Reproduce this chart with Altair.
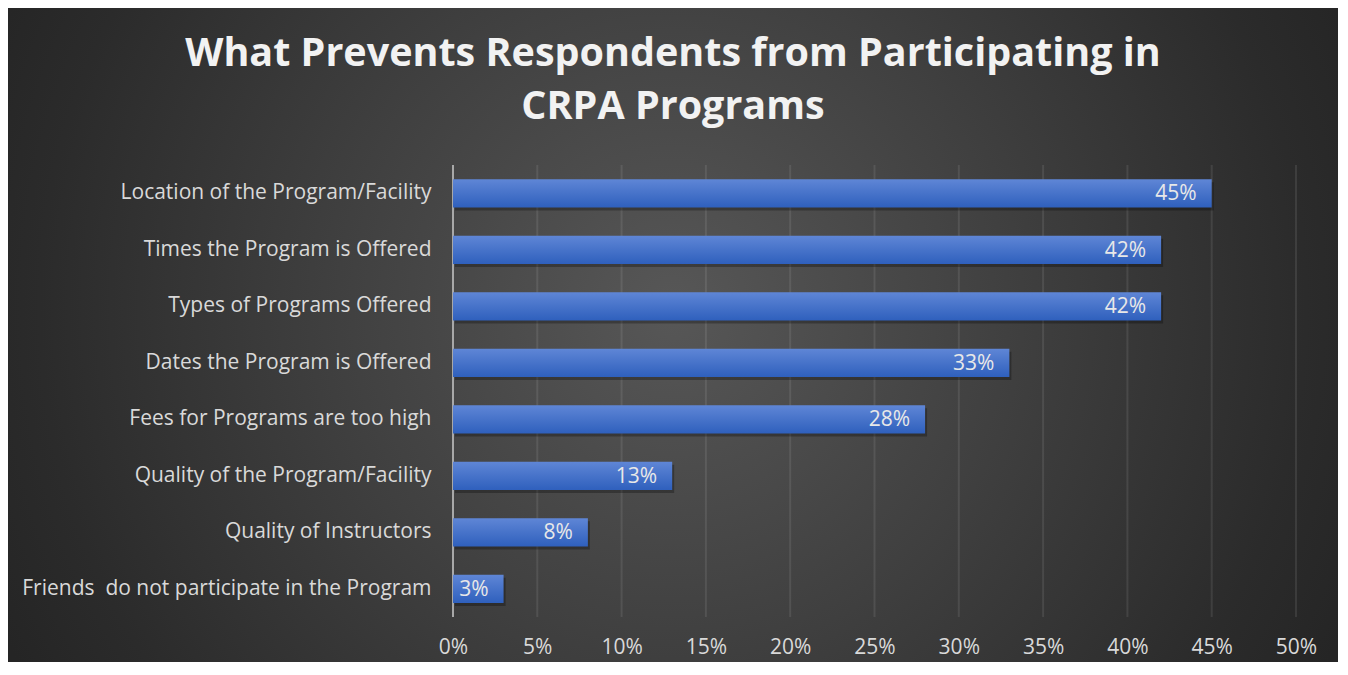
import altair as alt
import pandas as pd

categories = [
    "Location of the Program/Facility",
    "Times the Program is Offered",
    "Types of Programs Offered",
    "Dates the Program is Offered",
    "Fees for Programs are too high",
    "Quality of the Program/Facility",
    "Quality of Instructors",
    "Friends\u00a0 do not participate in the Program",
]
values = [0.45, 0.42, 0.42, 0.33, 0.28, 0.13, 0.08, 0.03]
tick_values = [0, 0.05, 0.10, 0.15, 0.20, 0.25, 0.30, 0.35, 0.40, 0.45, 0.50]
title_lines = ["What Prevents Respondents from Participating in", "CRPA Programs"]

df = pd.DataFrame({"category": categories, "value": values})
grid_df = pd.DataFrame({"value": tick_values[1:]})
zero_df = pd.DataFrame({"value": [0.0]})
bg_df = pd.DataFrame({"a": [0]})

W, H = 843, 452
PL, PT, PR, PB = 445, 157, 42, 45
FONT = "Open Sans"

xscale = alt.Scale(domain=[0, 0.5], nice=False, zero=True)
yscale = alt.Scale(paddingInner=0.5, paddingOuter=0.25)
xaxis = alt.Axis(
    title=None, values=tick_values, format=".0%", domain=False, ticks=False,
    grid=False, labelFontSize=21, labelColor="#d9d9d9", labelFont=FONT,
    labelPadding=19, labelFlush=False, zindex=1,
)
yaxis = alt.Axis(
    title=None, domain=False, ticks=False, grid=False,
    labelFontSize=21, labelColor="#d9d9d9", labelFont=FONT,
    labelPadding=22, labelLimit=600, zindex=1,
)
X = alt.X("value:Q", scale=xscale, axis=xaxis)
Y = alt.Y("category:N", sort=categories, scale=yscale, axis=yaxis)

bg = alt.Chart(bg_df).mark_rect(
    fill=alt.Gradient(
        gradient="radial",
        x1=0.5, y1=0.48, r1=0,
        x2=0.5, y2=0.48, r2=0.56,
        stops=[
            alt.GradientStop(offset=0, color="#575757"),
            alt.GradientStop(offset=0.45, color="#404040"),
            alt.GradientStop(offset=0.85, color="#2b2b2b"),
            alt.GradientStop(offset=1, color="#252525"),
        ],
    )
).encode(
    x=alt.value(-PL), x2=alt.value(W + PR),
    y=alt.value(-PT), y2=alt.value(H + PB),
)

grid = alt.Chart(grid_df).mark_rule(color="#ffffff", opacity=0.09, strokeWidth=2).encode(x=X)
zero = alt.Chart(zero_df).mark_rule(color="#a8a8a8", strokeWidth=2).encode(x=X)

base = alt.Chart(df).encode(x=X, y=Y)

shadow = base.mark_bar(color="#000000", opacity=0.28, xOffset=2, yOffset=3)

bars = base.mark_bar(
    fill=alt.Gradient(
        gradient="linear", x1=0, y1=0, x2=0, y2=1,
        stops=[
            alt.GradientStop(offset=0, color="#5f86d6"),
            alt.GradientStop(offset=1, color="#2f60bd"),
        ],
    )
)

labels = base.mark_text(
    align="right", baseline="middle", dx=-15, dy=1, fontSize=21, font=FONT, color="#e8e8e8"
).encode(text=alt.Text("value:Q", format=".0%"))

chart = alt.layer(bg, grid, zero, shadow, bars, labels).properties(
    width=W,
    height=H,
    padding={"left": PL, "top": PT, "right": PR, "bottom": PB},
    autosize=alt.AutoSizeParams(type="none"),
    title=alt.TitleParams(
        text=title_lines,
        fontSize=39.5,
        font=FONT,
        fontWeight="bold",
        color="#f2f2f2",
        anchor="middle",
        frame="bounds",
        orient="top",
        offset=0,
        baseline="alphabetic",
        lineHeight=53,
        dy=150,
    ),
).configure(
    background="#262626",
).configure_view(stroke=None)

chart.save("out.html", embed_options={"renderer": "svg", "actions": False})
